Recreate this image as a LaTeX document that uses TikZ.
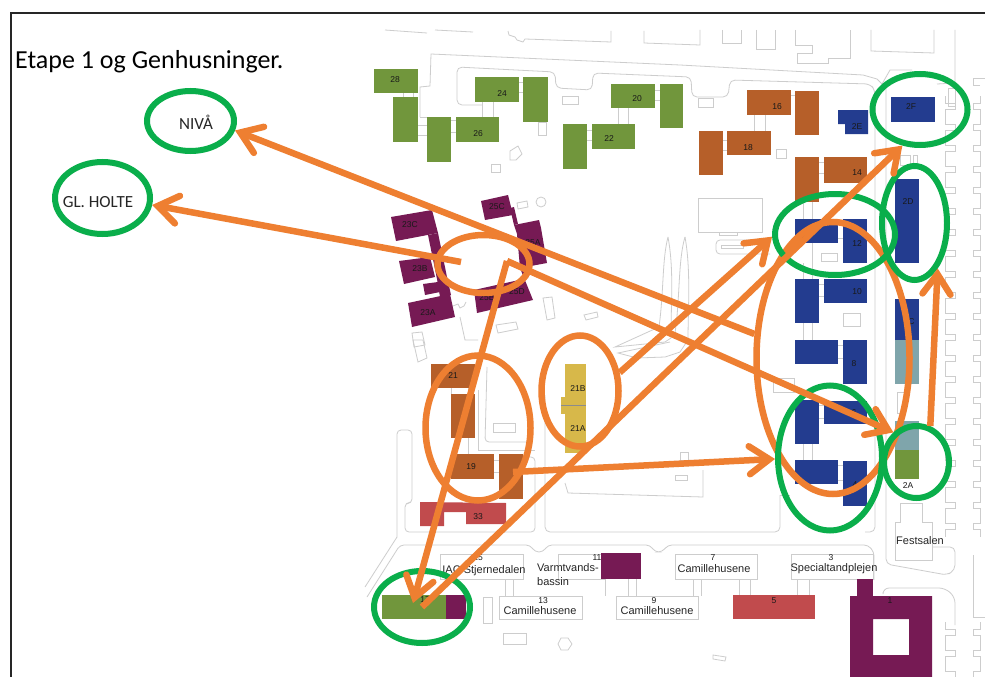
\documentclass[tikz,border=0pt]{standalone}
\usepackage{fontspec}
\setmainfont{Liberation Sans}
\newfontfamily\slidefont{Carlito}
\usetikzlibrary{arrows.meta,shapes.geometric}
\definecolor{mapline}{HTML}{CDCDCD}
\definecolor{grass}{HTML}{71963C}
\definecolor{rust}{HTML}{B65F29}
\definecolor{navy}{HTML}{233C8F}
\definecolor{plum}{HTML}{761A54}
\definecolor{mustard}{HTML}{D7B84A}
\definecolor{brick}{HTML}{C14B4D}
\definecolor{teal}{HTML}{7FA5AB}
\definecolor{flow}{HTML}{EE7F31}
\definecolor{ring}{HTML}{0AAE4B}
\tikzset{
  road/.style = {draw=mapline, line width=.8pt},
  hut/.style = {draw=mapline, line width=.8pt, fill=white},
  tag/.style = {font=\fontsize{8.5}{9}\selectfont, text=black!90, inner sep=0pt},
  plate/.style = {font=\fontsize{11}{11}\selectfont, text=black!85, inner sep=0pt},
  greenring/.style = {ellipse, draw=ring, line width=6pt, inner sep=0pt},
  orangering/.style = {ellipse, draw=flow, line width=6.5pt, inner sep=0pt},
  place/.style = {font=\slidefont\fontsize{17}{17}\selectfont, text=black!85, inner sep=0pt},
  move/.style = {draw=flow, line width=6.5pt, -{Straight Barb[length=20pt,width=28pt,line cap=round]}},
}
\begin{document}
\begin{tikzpicture}[x=1pt,y=-1pt]
\useasboundingbox (0,0) rectangle (985,677);
\fill[white] (0,0) rectangle (985,677);

% frame
\draw[black!85, line width=2pt] (10.5,677) -- (10.5,13.5) -- (985,13.5);
\node[font=\slidefont\fontsize{26}{26}\selectfont, inner sep=0pt, anchor=west] (title) at (15,61.5) {Etape 1 og Genhusninger.};

% roads along the top
\draw[road] (385,30) -- (427,33);
\draw[road] (435,30) -- (473,32);
\draw[road] (508,31) -- (509,35) -- (515,37) -- (517,40) -- (523,42) -- (525,39) -- (611,42) -- (611,31);
\draw[road] (644,31) -- (644,43) -- (700,45) -- (700,30);
\draw[road] (722,30) -- (722,43) -- (741,43) -- (741,30);
\draw[road] (756,30) -- (756,49) -- (775,49) -- (775,30);
\draw[road] (795,30) -- (795,45) -- (812,45) -- (812,53) -- (797,53) -- (797,63) -- (828,63) -- (828,58) -- (850,58) -- (850,30);
\draw[road] (871,30) -- (871,51) -- (934,53) -- (934,30);
\draw[road] (955,30) -- (955,83) -- (937,84);
\draw[road] (882,84) -- (890,70) -- (912,70);

% roads
\draw[road] (420,117) -- (420,87) -- (430,86) -- (431,54) -- (680,65) -- (863,75) -- (877,79) -- (882,84);
\draw[road] (420,117) -- (427,117);
\draw[road, rounded corners=5pt] (482,105) -- (457,105) -- (457,67) -- (555,72) -- (556,88) -- (592,90) -- (593,73) -- (691,77) -- (692,97) -- (728,97) -- (730,80) -- (870,84) -- (875,90) -- (875,532) -- (865,532);
\draw[road, rounded corners=5pt] (545,395) -- (545,532) -- (780,532) -- (780,495);
\draw[road] (780,495) -- (790,495);
\draw[road, rounded corners=4pt] (397,537) -- (397,430) -- (412,430) -- (412,503) -- (405,503) -- (405,532) -- (535,532) -- (535,457) -- (520,457);
\draw[road] (397,537) -- (365,587);
\draw[road, rounded corners=4pt] (367,597) -- (400,545) -- (530,545) -- (535,552) -- (543,552) -- (548,545) -- (650,545) -- (655,552) -- (662,552) -- (668,545) -- (868,545) -- (874,552) -- (874,580);
\draw[road, rounded corners=5pt] (886,84) -- (886,564) -- (947,575) -- (955,570) -- (955,547) -- (933,547);
\draw[road] (895,560) -- (932,560) -- (932,522) -- (922,522) -- (922,503) -- (900,503) -- (900,522) -- (895,522) -- cycle;
\draw[road, rounded corners=6pt] (883,592) -- (883,588) -- (945,588) -- (955,597) -- (955,625);
\draw[road, rounded corners=4pt] (487,367) -- (485,442) -- (527,442);
\draw[road] (478,390) -- (478,450) -- (535,450);
\draw[road] (565,483) -- (568,493) -- (703,497) -- (703,470);
\draw[road] (680,452) -- (688,452) -- (688,460) -- (680,460) -- cycle;
\draw[road] (675,475) -- (687,475) -- (687,480) -- (675,480) -- cycle;

% parking fingers on the right
\foreach \ypos in {106,127,...,527}{
  \draw[road] (945,\ypos-10) -- (945,\ypos-3) -- (955,\ypos-3) -- (955,\ypos+3) -- (945,\ypos+3) -- (945,\ypos+11);
  \draw[road] (980,\ypos-10) -- (980,\ypos-3) -- (973,\ypos-3) -- (973,\ypos+3) -- (980,\ypos+3) -- (980,\ypos+11);
}
\foreach \ypos in {632,653,674}{
  \draw[road] (945,\ypos-10) -- (945,\ypos-3) -- (955,\ypos-3) -- (955,\ypos+3) -- (945,\ypos+3) -- (945,\ypos+11);
  \draw[road] (980,\ypos-10) -- (980,\ypos-3) -- (973,\ypos-3) -- (973,\ypos+3) -- (980,\ypos+3) -- (980,\ypos+11);
}
\draw[road] (980,85) -- (973,85) -- (973,78) -- (985,78);
\draw[road] (973,555) -- (973,617) -- (985,617);

% the two leaves
\draw[road] (668,237) .. controls (662,260) and (664,290) .. (659,327) -- (615,347) -- (665,342) -- (671,338) .. controls (671,300) and (674,270) .. (668,237);
\draw[road] (685,237) .. controls (678,260) and (680,300) .. (675,333);
\draw[road] (685,237) .. controls (691,270) and (688,310) .. (688,340) -- (680,352) -- (665,357) -- (637,358) -- (618,353) -- (670,342);

% small outlines
\foreach \xa/\ya/\xb/\yb in {562/96/578/104, 538/122/546/135, 491/164/500/172, 698/98/713/107, 776/149/786/158,
  698/198/762/232, 719/232/737/235, 721/245/743/248, 821/253/837/261, 843/313/860/326, 900/155/910/165,
  913/155/917/163, 493/423/515/432, 483/597/492/623, 503/633/526/644, 897/392/905/413, 773/378/794/392, 948/88/955/106}
  \draw[road] (\xa,\ya) rectangle (\xb,\yb);
\draw[road, rounded corners=4pt] (752,240) -- (716,240) -- (716,254) -- (770,254);
\draw[road] (517,203) -- (527,201) -- (528,207) -- (518,209) -- cycle;
\draw[road] (543,298) -- (552,297) -- (555,318) -- (547,320) -- cycle;
\draw[road] (584,315) -- (597,312) -- (598,317) -- (586,320) -- cycle;
\draw[road] (496,325) -- (516,322) -- (518,329) -- (498,333) -- cycle;
\draw[road] (412,333) -- (422,332) -- (425,345) -- (414,347) -- cycle;
\draw[road] (413,340) -- (423,340) -- (427,358) -- (418,362) -- cycle;
\draw[road] (510,151) -- (518,146) -- (522,154) -- (516,160) -- (510,160) -- cycle;
\draw[road] (541,202) circle (5);
\draw[road] (558,644) -- (561,638) -- (568,638) -- (572,644) -- (568,650) -- (561,650) -- cycle;
\draw[road] (713,655) -- (726,657) -- (725,661) -- (713,659) -- cycle;
\draw[road] (453,306) -- (458,304) -- (460,308) -- (464,306) -- (466,302);
\draw[road] (460,317) -- (465,340) -- (478,340);

% links between the wings
\foreach \xa/\ya/\xb/\yb in {403/93/403/97, 413/93/413/97, 418/125/427/125, 418/135/427/135, 451/120/456/120, 451/132/456/132,
  482/102/482/117, 493/102/493/117, 519/82/523/82, 519/92/523/92, 618/108/618/124, 628/108/628/124, 655/90/660/90, 655/100/660/100,
  587/130/592/130, 587/140/592/140, 791/95/795/95, 754/115/754/131, 765/115/765/131, 723/140/727/140, 723/150/727/150,
  819/162/824/162, 819/173/824/173, 803/202/803/219, 812/202/812/219, 803/263/803/279, 812/243/812/279, 838/224/843/224, 838/238/843/238,
  819/284/824/284, 819/296/824/296, 803/323/803/340, 812/323/812/340, 838/345/843/345, 838/358/843/358,
  803/444/803/460, 812/444/812/460, 838/465/843/465, 838/480/843/480, 819/405/824/405, 819/418/824/418,
  451/388/451/394, 468/388/468/394, 468/438/468/454, 494/460/499/460, 494/472/499/472,
  505/579/505/596, 513/579/513/596, 605/579/605/596, 628/579/628/596, 636/579/636/596, 693/579/693/596, 701/579/701/596,
  739/579/739/595, 750/579/750/595, 797/579/797/595, 809/579/809/595, 504/579/519/579}
  \draw[road] (\xa,\ya) -- (\xb,\yb);

% name plates
\foreach \xa/\ya/\xb/\yb in {440/554/523/579, 558/554/605/579, 675/554/757/579, 791/554/873/579, 499/596/582/619, 616/596/698/619}
  \draw[hut] (\xa,\ya) rectangle (\xb,\yb);

% buildings, by stage
\foreach \xa/\ya/\xb/\yb in {374/69/418/93, 393/97/418/142, 427/117/451/162, 456/117/499/142, 475/77/519/102, 523/77/548/122,
  611/84/655/108, 660/84/683/128, 592/124/635/149, 563/124/587/169, 382/595/446/619, 895/450/919/479}
  \fill[grass] (\xa,\ya) rectangle (\xb,\yb);
\foreach \xa/\ya/\xb/\yb in {747/90/791/115, 795/91/819/135, 727/131/771/155, 699/131/723/175, 824/157/867/183, 795/157/819/202,
  431/364/475/388, 451/394/475/438, 451/454/494/479, 499/454/523/499}
  \fill[rust] (\xa,\ya) rectangle (\xb,\yb);
\foreach \xa/\ya/\xb/\yb in {891/97/935/122, 895/179/919/263, 795/219/838/243, 843/219/867/263, 795/279/819/323, 824/279/867/303,
  895/299/919/340, 795/340/838/364, 843/340/867/384, 795/400/819/444, 824/401/867/424, 795/460/838/484, 843/461/867/506}
  \fill[navy] (\xa,\ya) rectangle (\xb,\yb);
\fill[navy] (838,110) -- (868,110) -- (868,134) -- (845,134) -- (845,124) -- (838,124) -- cycle;
\foreach \xa/\ya/\xb/\yb in {895/340/919/384, 895/421/919/450}
  \fill[teal] (\xa,\ya) rectangle (\xb,\yb);
\foreach \xa/\ya/\xb/\yb in {446/595/466/619, 601/553/641/579, 857/579/873/596}
  \fill[plum] (\xa,\ya) rectangle (\xb,\yb);
\fill[plum, even odd rule] (850,596) rectangle (932,677) (873,619) rectangle (909,655);
\fill[plum] (391,217) -- (432,210) -- (438,233) -- (396,241) -- cycle;
\fill[plum] (428,235) -- (438,233) -- (447,277) -- (451,295) -- (440,297) -- (437,279) -- cycle;
\fill[plum] (399,261) -- (430,257) -- (435,277) -- (404,284) -- cycle;
\fill[plum] (423,284) -- (438,282) -- (440,292) -- (425,295) -- cycle;
\fill[plum] (408,303) -- (450,294) -- (455,317) -- (412,327) -- cycle;
\fill[plum] (481,201) -- (508,195) -- (513,215) -- (485,220) -- cycle;
\fill[plum] (510,208) -- (514,207) -- (518,224) -- (514,225) -- cycle;
\fill[plum] (514,225) -- (539,220) -- (541,228) -- (547,263) -- (520,268) -- (517,234) -- cycle;
\fill[plum] (520,268) -- (528,266) -- (528,278) -- (474,290) -- (477,313) -- (533,300) -- cycle;
\fill[brick] (733,595) rectangle (815,619);
\fill[brick] (420,502) -- (506,503) -- (506,524) -- (466,524) -- (466,512) -- (444,512) -- (444,526) -- (420,526) -- cycle;
\fill[mustard] (565,364) rectangle (586,453);
\fill[mustard] (561,397) rectangle (565,414);
\draw[black!45, thin] (561,405) -- (586,405);

% numbers
\foreach \xpos/\ypos/\txt/\tagname in {395/80/28/b28, 502/94/24/b24, 478/134/26/b26, 637/99/20/b20, 609/139/22/b22, 777/107/16/b16, 748/148/18/b18,
  857/173/14/b14, 857/127/2E/b2E, 911/107/2F/b2F, 908/202/2D/b2D, 857/244/12/b12, 857/292/10/b10, 909/322/2C/b2C, 854/364/8/b8, 854/413/6/b6,
  855/485/4/b4, 908/486/2A/b2A, 774/601/5/b5, 890/601/1/b1, 831/558/3/b3, 713/558/7/b7, 654/601/9/b9, 543/601/13/b13, 478/558/15/b15, 597/558/11/b11,
  425/600/17/b17, 453/376/21/b21, 471/467/19/b19, 478/517/33/b33, 578/389/21B/b21B, 578/429/21A/b21A, 410/225/23C/b23C, 420/269/23B/b23B,
  428/313/23A/b23A, 497/207/25C/b25C, 533/243/25A/b25A, 487/298/25B/b25B, 517/292/25D/b25D}
  \node[tag] (\tagname) at (\xpos,\ypos) {\txt};

% names
\node[plate] (stjerne) at (484,571) {IAC Stjernedalen};
\node[plate, anchor=west] (varmt) at (537,568) {Varmtvands-};
\node[plate, anchor=west] (bassin) at (537,582) {bassin};
\node[plate] (camille7) at (714,569) {Camillehusene};
\node[plate] (special) at (834,569) {Specialtandplejen};
\node[plate] (camille13) at (540,611) {Camillehusene};
\node[plate] (camille9) at (657,611) {Camillehusene};
\node[plate] (festsal) at (920,541) {Festsalen};

% orange groups
\node[orangering, minimum width=92pt, minimum height=58pt] (plumgroup) at (483.5,264) {};
\node[orangering, minimum width=105pt, minimum height=145pt] (rustgroup) at (478,428) {};
\node[orangering, minimum width=77pt, minimum height=111pt] (yellowgroup) at (580,391) {};
\node[orangering, minimum width=153pt, minimum height=272pt] (bluegroup) at (833,358) {};

% green targets
\node[greenring, minimum width=87pt, minimum height=60pt] (niva) at (190.5,121) {};
\node[greenring, minimum width=95pt, minimum height=72pt] (holte) at (102.5,198) {};
\node[greenring, minimum width=95pt, minimum height=71pt] (twoF) at (920,109.5) {};
\node[greenring, minimum width=120pt, minimum height=81pt] (twelve) at (835,234.5) {};
\node[greenring, minimum width=65pt, minimum height=114pt] (twoD) at (914.5,223) {};
\node[greenring, minimum width=104pt, minimum height=145pt] (fourSix) at (830,458) {};
\node[greenring, minimum width=65pt, minimum height=72pt] (twoA) at (916.5,462) {};
\node[greenring, minimum width=96pt, minimum height=72pt] (southwest) at (422,607) {};
\node[place] (nivatext) at (196,122) {NIVÅ};
\node[place] (holtetext) at (98,202) {GL. HOLTE};

% loose ends inside the rings
\coordinate (holtefrom) at (461,262);
\coordinate (fork) at (507,261);
\coordinate (southtip) at (413,603);
\coordinate (rustfrom) at (513,472);

% moves
\draw[move] (bluegroup.163) -- (niva.-12);
\draw[move] (holtefrom) -- (holte.-8);
\draw[move] (fork) -- (twoA.128);
\draw[move] (fork) -- (southtip);
\draw[move] (southwest.center) -- (twoF.-116);
\draw[move] (yellowgroup.25) -- (twelve.182);
\draw[move] (rustfrom) -- (fourSix.181);
\draw[move] (twoA.69) -- (twoD.-63);
\end{tikzpicture}
\end{document}
